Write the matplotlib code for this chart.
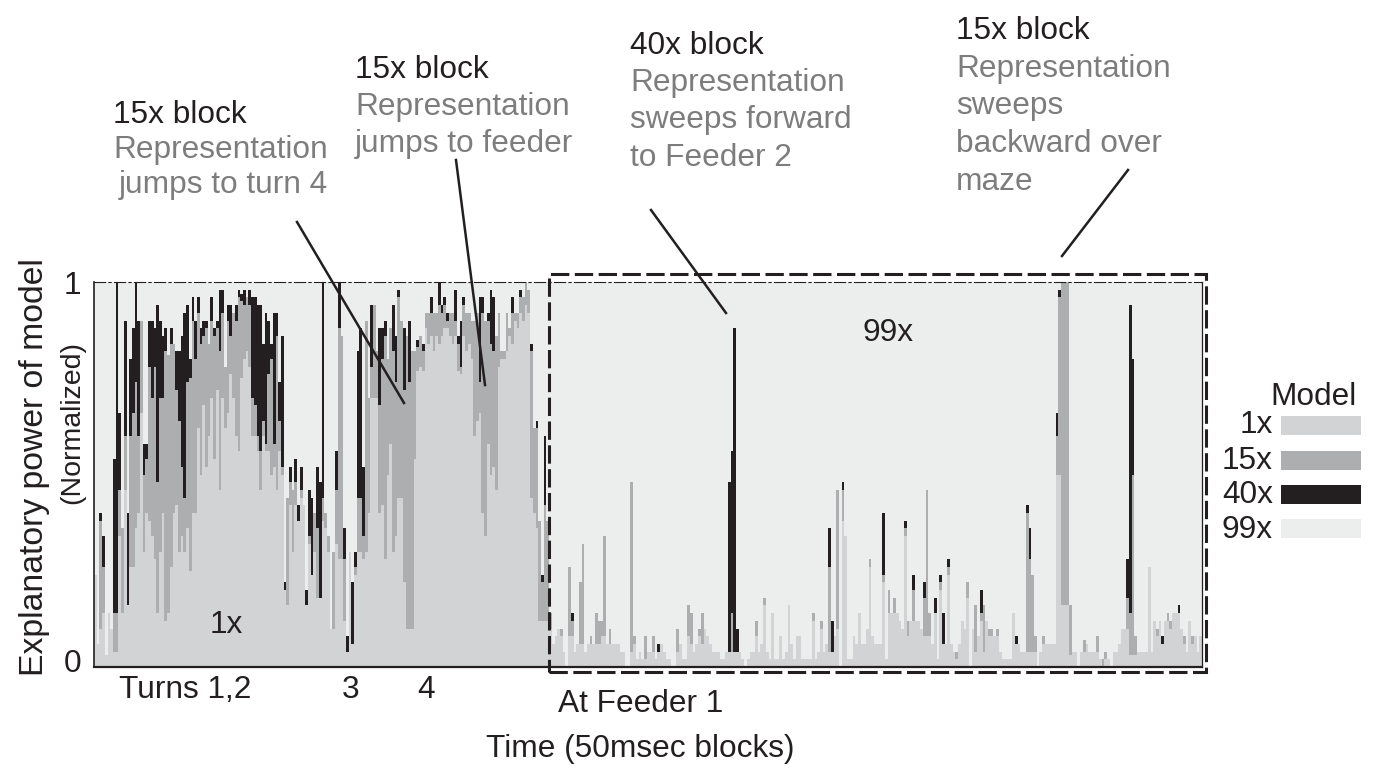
import numpy as np
import matplotlib
matplotlib.use("Agg")
import matplotlib.pyplot as plt
from matplotlib.patches import Rectangle
from matplotlib.lines import Line2D
from matplotlib.transforms import ScaledTranslation, blended_transform_factory

plt.rcParams['font.family'] = ['Liberation Sans', 'DejaVu Sans']

# ---------------- data (percent of normalized explanatory power) ----------------
model_names = ['1x', '15x', '40x', '99x']
model_colors = ['#d2d3d5', '#adaeb0', '#231f20', '#eceeed']

model_1x = [
 24, 6, 10, 14, 3, 14, 10, 4, 4, 34, 14, 46, 16, 26, 26, 36, 40, 66, 30, 40,
 38, 34, 28, 14, 30, 40, 12, 14, 26, 40, 42, 30, 34, 30, 36, 25, 40, 40, 62, 50,
 68, 52, 60, 70, 54, 72, 46, 70, 62, 66, 76, 70, 60, 56, 75, 80, 82, 78, 60, 60,
 56, 46, 60, 56, 56, 50, 52, 46, 56, 50, 20, 16, 42, 30, 42, 38, 44, 42, 16, 32,
 24, 30, 18, 18, 38, 36, 30, 10, 10, 32, 28, 28, 12, 4, 30, 6, 24, 30, 30, 28,
 30, 40, 70, 70, 70, 40, 42, 28, 50, 58, 30, 34, 44, 44, 22, 10, 10, 10, 54, 77,
 78, 77, 88, 84, 86, 82, 86, 84, 86, 88, 88, 86, 84, 86, 77, 76, 86, 82, 84, 80,
 60, 64, 66, 40, 34, 58, 50, 52, 46, 78, 80, 80, 82, 86, 84, 90, 88, 92, 90, 94,
 92, 44, 40, 36, 12, 12, 12, 12, 10,
 6, 8, 10, 8, 4, 0, 8, 8, 4, 6, 6, 6, 4, 6, 6, 6, 6, 6, 8, 8,
 6, 6, 6, 6, 6, 4, 4, 0, 0, 4, 6, 2, 4, 2, 2, 4, 4, 4, 2, 4,
 6, 4, 2, 2, 0, 0, 4, 6, 2, 2, 8, 6, 4, 6, 8, 6, 10, 8, 6, 4,
 4, 4, 2, 2, 4, 4, 4, 4, 4, 4, 2, 0, 2, 4, 4, 8, 4, 6, 16, 4,
 2, 14, 2, 2, 8, 2, 4, 16, 6, 2, 8, 8, 2, 2, 2, 2, 12, 2, 4, 10,
 4, 6, 4, 4, 8, 10, 0, 38, 34, 2, 2, 8, 6, 14, 6, 6, 10, 26, 8, 6,
 6, 6, 22, 2, 14, 14, 14, 14, 12, 10, 34, 8, 12, 12, 12, 12, 10, 8, 8, 8,
 6, 14, 2, 20, 6, 6, 24, 6, 4, 2, 6, 12, 10, 18, 0, 10, 4, 8, 12, 4,
 12, 8, 8, 8, 8, 4, 2, 2, 2, 2, 14, 6, 6, 4, 4, 4, 4, 4, 4, 0,
 4, 6, 6, 6, 6, 6, 50, 50, 16, 16, 16, 3, 4, 4, 0, 4, 4, 6, 4, 4,
 4, 4, 2, 0, 2, 2, 0, 4, 4, 6, 10, 10, 10, 3, 3, 3, 4, 4, 4, 4,
 26, 4, 12, 8, 12, 6, 12, 12, 10, 14, 14, 14, 10, 6, 4, 12, 6, 8, 4, 8,
]

model_15x = [
 0, 0, 28, 12, 0, 0, 0, 10, 10, 12, 22, 14, 0, 34, 40, 38, 20, 24, 20, 14,
 40, 36, 50, 34, 40, 30, 70, 67, 58, 44, 30, 34, 18, 14, 38, 50, 50, 40, 30, 34,
 18, 36, 24, 20, 32, 16, 36, 22, 16, 24, 10, 22, 30, 40, 20, 14, 14, 16, 10, 8,
 4, 10, 4, 2, 20, 30, 6, 40, 8, 2, 0, 28, 6, 16, 6, 0, 2, 0, 0, 2,
 0, 10, 18, 0, 6, 4, 4, 0, 20, 14, 60, 58, 16, 0, 0, 0, 2, 14, 14, 6,
 60, 30, 8, 24, 12, 28, 38, 58, 30, 30, 52, 40, 52, 46, 50, 76, 64, 72, 28, 6,
 8, 5, 4, 8, 6, 10, 6, 10, 6, 6, 2, 6, 8, 4, 7, 2, 8, 10, 8, 10,
 30, 28, 8, 52, 56, 32, 34, 30, 40, 14, 2, 2, 10, 2, 8, 2, 4, 4, 6, 6,
 6, 38, 22, 26, 26, 10, 30, 26, 4,
 0, 0, 0, 2, 0, 0, 18, 4, 0, 0, 16, 26, 0, 0, 2, 0, 8, 6, 4, 26,
 0, 4, 0, 0, 0, 0, 0, 0, 0, 44, 2, 0, 0, 0, 6, 0, 0, 4, 0, 0,
 0, 0, 0, 0, 0, 0, 6, 0, 0, 0, 8, 8, 0, 0, 2, 8, 0, 0, 0, 0,
 0, 0, 0, 0, 0, 0, 10, 0, 0, 0, 0, 0, 0, 0, 0, 4, 0, 0, 2, 0,
 0, 0, 0, 0, 0, 0, 0, 0, 0, 0, 0, 0, 0, 0, 0, 0, 2, 0, 0, 2,
 0, 0, 22, 0, 0, 36, 0, 8, 0, 0, 0, 0, 0, 0, 0, 0, 0, 2, 0, 0,
 0, 0, 2, 0, 6, 0, 4, 0, 0, 0, 2, 4, 0, 8, 0, 0, 0, 10, 38, 6,
 0, 0, 0, 2, 0, 0, 2, 0, 0, 2, 0, 0, 0, 4, 0, 0, 12, 0, 2, 12,
 0, 2, 2, 0, 2, 0, 0, 0, 0, 0, 0, 0, 0, 0, 0, 36, 24, 20, 4, 0,
 0, 2, 0, 0, 0, 0, 10, 46, 84, 84, 84, 13, 0, 0, 0, 0, 3, 0, 0, 0,
 0, 4, 0, 2, 2, 0, 0, 0, 0, 0, 0, 0, 8, 11, 47, 5, 0, 0, 0, 0,
 0, 0, 0, 2, 0, 0, 0, 2, 2, 0, 0, 0, 0, 2, 0, 0, 2, 0, 0, 0,
]

model_40x = [
 0, 0, 2, 8, 0, 0, 0, 40, 86, 20, 0, 30, 24, 20, 22, 26, 30, 0, 8, 4,
 12, 20, 10, 46, 20, 16, 6, 0, 4, 0, 10, 18, 34, 48, 20, 5, 6, 10, 4, 4,
 4, 2, 0, 6, 2, 2, 16, 6, 0, 4, 8, 0, 4, 2, 2, 4, 0, 4, 26, 28,
 34, 38, 20, 34, 14, 4, 34, 6, 10, 34, 2, 0, 4, 0, 6, 4, 6, 0, 4, 12,
 20, 0, 16, 30, 56, 0, 0, 0, 0, 10, 12, 0, 8, 4, 0, 16, 4, 38, 44, 18,
 0, 0, 16, 0, 0, 20, 8, 4, 0, 0, 12, 12, 2, 0, 16, 0, 16, 0, 0, 2,
 0, 2, 0, 0, 4, 0, 0, 6, 2, 2, 2, 0, 0, 8, 2, 12, 2, 0, 0, 0,
 0, 0, 22, 4, 0, 2, 14, 14, 0, 0, 0, 0, 0, 0, 4, 0, 0, 2, 0, 0,
 0, 2, 0, 2, 0, 2, 18, 0, 0,
 0, 0, 0, 0, 0, 0, 0, 2, 0, 0, 0, 0, 0, 0, 0, 0, 0, 0, 0, 0,
 0, 0, 0, 0, 0, 0, 0, 0, 0, 0, 0, 0, 0, 0, 0, 0, 0, 0, 0, 2,
 0, 0, 0, 0, 0, 0, 0, 0, 0, 0, 0, 0, 0, 0, 0, 0, 0, 0, 0, 0,
 0, 0, 0, 0, 0, 44, 42, 84, 6, 0, 0, 0, 0, 0, 0, 0, 0, 0, 0, 0,
 0, 0, 0, 0, 0, 0, 0, 0, 0, 0, 0, 0, 0, 0, 0, 0, 0, 0, 0, 0,
 0, 0, 10, 8, 0, 0, 0, 2, 0, 0, 0, 0, 0, 0, 0, 0, 0, 0, 0, 0,
 0, 0, 16, 0, 0, 0, 0, 0, 0, 0, 2, 0, 0, 4, 0, 0, 0, 4, 0, 0,
 0, 4, 0, 2, 8, 0, 2, 0, 0, 0, 0, 0, 0, 0, 0, 0, 0, 0, 6, 0,
 0, 0, 0, 0, 0, 0, 0, 0, 0, 0, 0, 2, 0, 0, 0, 2, 8, 0, 0, 0,
 0, 0, 0, 0, 0, 0, 6, 2, 0, 0, 0, 0, 0, 0, 0, 0, 0, 0, 0, 0,
 0, 0, 0, 0, 0, 0, 0, 0, 0, 0, 0, 0, 10, 80, 30, 0, 0, 0, 0, 0,
 0, 0, 0, 0, 0, 2, 0, 0, 0, 0, 0, 2, 0, 0, 0, 0, 0, 0, 0, 0,
]

y_tick_values = [0, 1]
y_tick_labels = ['0', '1']

# ---------------- figure ----------------
W, H = 1377, 769
fig = plt.figure(figsize=(W / 100, H / 100), dpi=100)
fig.patch.set_facecolor('white')

def fx(x):
    return x / W

def fy(y):
    return 1 - y / H

dark = '#231f20'
grey_txt = '#7d7d7d'
FS = 22.8

ax = fig.add_axes([fx(94), fy(667), (1202 - 94) / W, (667 - 282) / H])

v1 = np.array(model_1x, float) / 100
v15 = np.array(model_15x, float) / 100
v40 = np.array(model_40x, float) / 100
v99 = np.clip(1 - v1 - v15 - v40, 0, None)
N = len(v1)
x = np.arange(N)

bottom = np.zeros(N)
for vals, col in zip([v1, v15, v40, v99], model_colors):
    ax.bar(x, vals, width=1.0, bottom=bottom, color=col, linewidth=0,
           antialiased=False, align='center')
    bottom = bottom + vals

ax.set_xlim(-0.5, N - 0.5)
ax.set_ylim(0, 1)
ax.set_xticks([])
ax.set_yticks(y_tick_values, y_tick_labels, fontsize=FS, color=dark)
ax.tick_params(axis='y', length=0, pad=9)
lbl0 = ax.get_yticklabels()[0]
lbl0.set_transform(lbl0.get_transform() + ScaledTranslation(0, 5 / 72, fig.dpi_scale_trans))

ax.spines['left'].set_color(dark)
ax.spines['left'].set_linewidth(1.2)
ax.spines['bottom'].set_color(dark)
ax.spines['bottom'].set_linewidth(1.6)
ax.spines['right'].set_color(dark)
ax.spines['right'].set_linewidth(0.9)
ax.spines['top'].set_color(dark)
ax.spines['top'].set_linewidth(0.8)
ax.spines['top'].set_linestyle((0, (10, 3, 2, 3)))

# in-plot labels
ax.text((226 - 94) / 2.7 - 0.5, (667 - 625) / 385, '1x', fontsize=FS,
        color=dark, ha='center', va='center')
ax.text((885 - 94) / 2.7 - 0.5, (667 - 333) / 385, '99x', fontsize=FS,
        color=dark, ha='center', va='center')

# x category labels below the axis
bt = blended_transform_factory(ax.transData, ax.transAxes)
for label, px, base in [('Turns 1,2', 185, 698), ('3', 350, 698), ('4', 425, 698),
                        ('At Feeder 1', 639, 712)]:
    ax.text((px - 94) / 2.7 - 0.5, (667 - base) / 385, label, transform=bt,
            fontsize=FS, color=dark, ha='center', va='baseline', clip_on=False)

fig.text(fx(640), fy(757), 'Time (50msec blocks)', fontsize=FS, color=dark,
         ha='center', va='baseline')
fig.text(fx(35), fy(467), 'Explanatory power of model', fontsize=24.3, color=dark,
         rotation=90, ha='center', va='center')
fig.text(fx(72), fy(422), '(Normalized)', fontsize=20.5, color=dark,
         rotation=90, ha='center', va='center')

# dashed box around feeder section
box = Rectangle((fx(549), fy(672)), fx(1206) - fx(549), fy(274) - fy(672),
                transform=fig.transFigure, fill=False, edgecolor=dark,
                linewidth=2.2, linestyle=(0, (6, 1.8)), zorder=5)
fig.patches.append(box)

# annotation blocks
blocks = [
    (113, [('15x block', 123, dark), ('Representation', 158, grey_txt),
           ('jumps to turn 4', 193, grey_txt)]),
    (355, [('15x block', 78, dark), ('Representation', 115, grey_txt),
           ('jumps to feeder', 152, grey_txt)]),
    (630, [('40x block', 54, dark), ('Representation', 91, grey_txt),
           ('sweeps forward', 128, grey_txt), ('to Feeder 2', 166, grey_txt)]),
    (956, [('15x block', 39, dark), ('Representation', 77, grey_txt),
           ('sweeps', 114, grey_txt), ('backward over', 152, grey_txt),
           ('maze', 190, grey_txt)]),
]
for bx, lines in blocks:
    for i, (txt, base, col) in enumerate(lines):
        xx = bx + (6 if (bx == 113 and i == 2) else 0)
        fig.text(fx(xx), fy(base), txt, fontsize=FS, color=col, ha='left', va='baseline')

for (x0, y0, x1, y1) in [(297, 222, 404, 403), (456, 160, 485, 385),
                         (651, 210, 726, 313), (1128, 170, 1062, 256)]:
    fig.lines.append(Line2D([fx(x0), fx(x1)], [fy(y0), fy(y1)], transform=fig.transFigure,
                            color=dark, linewidth=1.8, zorder=6))

# legend
fig.text(fx(1357), fy(405), 'Model', fontsize=FS, color=dark, ha='right', va='baseline')
for name, col, base, top in zip(model_names, model_colors, [433, 469, 503, 538],
                                [416, 451, 485, 519]):
    fig.text(fx(1273), fy(base), name, fontsize=FS, color=dark, ha='right', va='baseline')
    fig.patches.append(Rectangle((fx(1281), fy(top + 19)), 80 / W, 19 / H,
                                 transform=fig.transFigure, facecolor=col,
                                 edgecolor='none'))

fig.savefig('out.png', dpi=100)
